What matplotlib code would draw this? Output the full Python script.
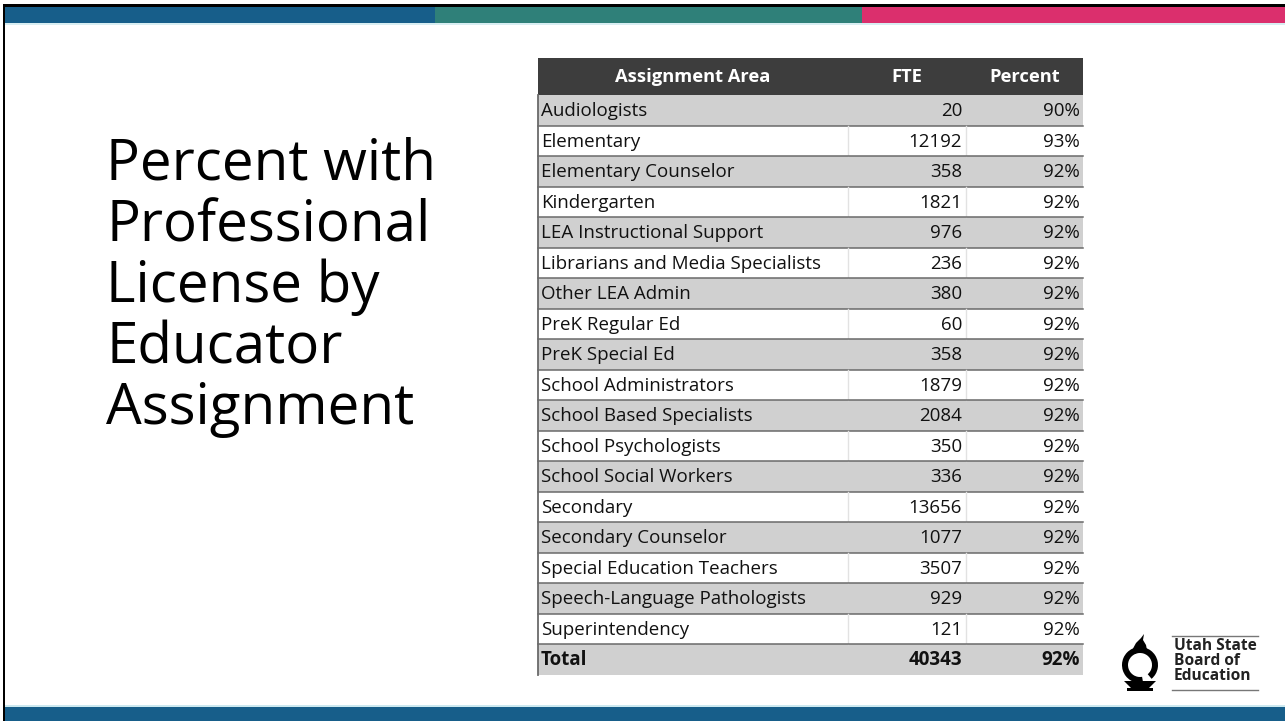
import matplotlib
matplotlib.use("Agg")
import matplotlib.pyplot as plt
from matplotlib.patches import Rectangle, Polygon, Wedge
from matplotlib.lines import Line2D

# ---- data ----
areas = ["Audiologists", "Elementary", "Elementary Counselor", "Kindergarten",
         "LEA Instructional Support", "Librarians and Media Specialists",
         "Other LEA Admin", "PreK Regular Ed", "PreK Special Ed",
         "School Administrators", "School Based Specialists",
         "School Psychologists", "School Social Workers", "Secondary",
         "Secondary Counselor", "Special Education Teachers",
         "Speech-Language Pathologists", "Superintendency"]
fte = [20, 12192, 358, 1821, 976, 236, 380, 60, 358, 1879, 2084, 350, 336,
       13656, 1077, 3507, 929, 121]
percent = [90, 93, 92, 92, 92, 92, 92, 92, 92, 92, 92, 92, 92, 92, 92, 92, 92, 92]
total_label = "Total"
total_fte = 40343
total_pct = 92
headers = ["Assignment Area", "FTE", "Percent"]
title_lines = ["Percent with", "Professional", "License by", "Educator", "Assignment"]
logo_lines = ["Utah State", "Board of", "Education"]

FONT = "Open Sans"
W, H = 1285, 721
fig = plt.figure(figsize=(W / 100, H / 100), dpi=100)
ax = fig.add_axes([0, 0, 1, 1])
ax.set_xlim(0, W)
ax.set_ylim(H, 0)
ax.axis("off")

# ---- slide frame ----
ax.add_patch(Rectangle((3, 4), W - 3, 3, color="black", lw=0))
ax.add_patch(Rectangle((3, 4), 2, H - 4, color="black", lw=0))
ax.add_patch(Rectangle((5, 7), 430, 16, color="#175e8a", lw=0))
ax.add_patch(Rectangle((435, 7), 427, 16, color="#2f8079", lw=0))
ax.add_patch(Rectangle((862, 7), W - 862, 16, color="#db2f6d", lw=0))
ax.add_patch(Rectangle((5, 23), W - 5, 1.5, color="#d8eef2", lw=0))
ax.add_patch(Rectangle((5, 705), W - 5, 2, color="#cde9f0", lw=0))
ax.add_patch(Rectangle((5, 707), W - 5, 14, color="#175e8a", lw=0))

# ---- title ----
for i, line in enumerate(title_lines):
    ax.text(106, 180 + i * 61, line, fontsize=40.7, family=FONT,
            color="black", ha="left", va="baseline")

# ---- table ----
x0, x1, x2, x3 = 538, 848, 966, 1083
top, hdr_h, row_h = 58, 37, 30.5
fs = 13.5
ax.add_patch(Rectangle((x0, top), x3 - x0, hdr_h, color="#3d3d3d", lw=0))
hy = top + hdr_h / 2
for xc, h in zip([(x0 + x1) / 2, (x1 + x2) / 2, (x2 + x3) / 2], headers):
    ax.text(xc, hy, h, color="white", fontsize=13.2, weight="bold",
            family=FONT, ha="center", va="center")

rows = list(zip(areas, fte, percent)) + [(total_label, total_fte, total_pct)]
y = top + hdr_h
for i, (name, v, p) in enumerate(rows):
    grey = (i % 2 == 0)
    ax.add_patch(Rectangle((x0, y), x3 - x0, row_h,
                           color="#d0d0d0" if grey else "white", lw=0))
    if not grey:
        ax.add_line(Line2D([x1, x1], [y, y + row_h], color="#e2e2e2", lw=1))
        ax.add_line(Line2D([x2, x2], [y, y + row_h], color="#e2e2e2", lw=1))
    bold = (i == len(rows) - 1)
    cy = y + row_h / 2 + 1
    kw = dict(fontsize=fs, family=FONT, color="#111111", va="center",
              weight="bold" if bold else "normal")
    ax.text(x0 + 3, cy, name, ha="left", **kw)
    ax.text(x2 - 4, cy, f"{v}", ha="right", **kw)
    ax.text(x3 - 3, cy, f"{p}%", ha="right", **kw)
    if i < len(rows) - 1:
        ax.add_line(Line2D([x0, x3], [y + row_h, y + row_h], color="#6a6a6a", lw=1.1))
    y += row_h
ax.add_line(Line2D([x0, x0], [top + hdr_h, y], color="#6a6a6a", lw=1.3))

# ---- logo ----
lx, ly = 1140, 665
# ring open at the top right
ax.add_patch(Wedge((lx, ly), 18, 80, 50 + 360, width=6, color="black", lw=0))
# flame tongue rising from the ring's upper left and curling up
flame = Polygon([(lx - 7, ly - 16.5), (lx - 4, ly - 22), (lx + 1, ly - 27), (lx + 4, ly - 31),
                 (lx + 3, ly - 25), (lx + 6, ly - 20), (lx + 7, ly - 15),
                 (lx + 3, ly - 12), (lx + 1, ly - 17), (lx - 2, ly - 13), (lx - 5, ly - 11)],
                closed=True, color="black", lw=0)
ax.add_patch(flame)
ax.add_patch(Polygon([(lx - 16, 681), (lx + 16, 681), (lx + 9, 688), (lx - 9, 688)],
                     closed=True, color="black", lw=0))
ax.add_patch(Rectangle((lx - 13, 688), 26, 3, color="black", lw=0))
ax.add_line(Line2D([1172, 1258], [636, 636], color="#777777", lw=1))
ax.add_line(Line2D([1172, 1258], [690, 690], color="#777777", lw=1))
for j, t in enumerate(logo_lines):
    ax.text(1174, 650 + j * 15, t, fontsize=11.2, weight="bold", family=FONT,
            color="#222222", ha="left", va="baseline")

fig.savefig("out.png", dpi=100)
